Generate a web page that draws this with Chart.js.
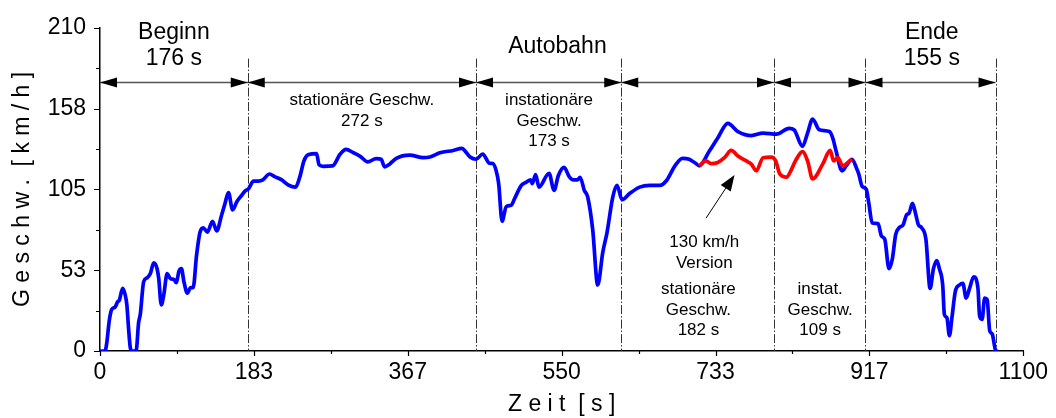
<!DOCTYPE html>
<html>
<head>
<meta charset="utf-8">
<script src="https://cdn.jsdelivr.net/npm/chart.js@4/dist/chart.umd.min.js"></script>
<style>
  html, body { margin: 0; padding: 0; background: #fff; }
  #wrap { width: 1056px; height: 418px; }
</style>
</head>
<body>
<div id="wrap"><canvas id="speedChart" width="1056" height="418"></canvas></div>
<script>
// time [s] / speed [km/h]
const blueTime = [0, 6, 8, 11, 14, 18, 21, 23, 27, 30, 32, 34, 36, 38, 43, 46, 48, 52, 56, 60, 64, 68, 70, 73, 76, 80, 84, 88, 91, 94, 97, 100, 104, 108, 111, 115, 119, 123, 128, 134, 139, 145, 149, 153, 158, 163, 168, 173, 177, 183, 189, 194, 202, 208, 216, 224, 233, 238, 243, 248, 258, 261, 266, 277, 286, 293, 302, 310, 319, 329, 335, 339, 345, 353, 369, 385, 393, 405, 421, 431, 435, 441, 448, 456, 464, 468, 472, 475, 479, 484, 490, 494, 502, 508, 513, 515, 519, 523, 535, 541, 546, 553, 559, 564, 569, 572, 577, 581, 587, 593, 599, 604, 611, 616, 622, 631, 643, 655, 667, 675, 685, 694, 702, 710, 714, 726, 736, 748, 760, 776, 790, 806, 821, 827, 837, 843, 849, 857, 869, 873, 877, 884, 889, 896, 901, 904, 908, 913, 916, 920, 927, 931, 935, 940, 944, 948, 952, 957, 961, 964, 968, 972, 975, 979, 984, 989, 993, 997, 1000, 1004, 1006, 1009, 1012, 1015, 1019, 1024, 1028, 1032, 1036, 1041, 1046, 1048, 1051, 1054, 1057, 1060, 1063, 1067, 1069];
const blueSpeed = [0, 0, 5, 19.5, 27, 28.5, 32, 33, 40.7, 36.5, 30, 15, 2.5, 0, 0, 18.5, 23.8, 45, 47.5, 50.3, 57.3, 53.5, 47, 30, 36.5, 50.3, 47, 46.5, 44.4, 51.8, 53.5, 45, 37.6, 41.2, 41.2, 62, 76.8, 80, 77.3, 84.3, 78, 88.5, 96, 103, 91.7, 97, 100.6, 104, 105.5, 110.4, 110.4, 111.2, 115, 113.3, 111.4, 108, 106.5, 113, 123.5, 127.5, 128.3, 121, 120, 120.3, 127.8, 131, 128.8, 126.5, 122.9, 125, 124.6, 119.7, 121.4, 125.2, 127.3, 125.6, 126, 128.8, 130.3, 131.6, 129.9, 126, 124.6, 128, 122, 121.8, 117.1, 108.7, 84.3, 93.8, 94.8, 99.1, 107.6, 109.7, 111.2, 108.7, 114.6, 106.5, 115.5, 104.4, 113.9, 119.3, 113.3, 111.2, 111.2, 112.9, 104.4, 100.2, 78.9, 42.9, 64.1, 76.8, 100.2, 107.6, 98.3, 102.3, 106.5, 107.6, 107.6, 110.8, 120.3, 125.2, 124.6, 121.8, 120.3, 129.9, 138.4, 147.9, 142.6, 140, 141.6, 140.9, 144.7, 143.7, 133, 141.6, 150.7, 143.7, 142.6, 138.4, 129.9, 117.1, 120.3, 124.6, 119.3, 115, 107, 105, 96, 83.2, 82.8, 74.7, 72.6, 53.5, 59.8, 75.7, 80, 82.1, 88.5, 89.6, 95.9, 88.5, 82.1, 80, 72.6, 40.7, 53.5, 58.8, 53.5, 42.9, 23.8, 21.6, 10, 21.6, 38.6, 42.9, 43.9, 34.4, 40.7, 48.2, 40.7, 22.7, 20.6, 34.4, 33.4, 13.2, 11.1, 0.5, 0];

// 130 km/h version
const redTime = [714, 722, 728, 736, 744, 752, 760, 770, 776, 782, 790, 800, 805, 810, 818, 823, 829, 837, 843, 849, 861, 870, 874, 879, 885, 893, 896];
const redSpeed = [120.3, 123.5, 121.8, 122.5, 125.6, 130.3, 126.7, 123.5, 121.4, 117.1, 125.6, 126, 123.5, 115, 112.9, 117.1, 124, 129.5, 123.5, 111.8, 121.4, 130.3, 123.5, 125.6, 120.3, 123.5, 124.6];

const xTickValues = [0, 1100 / 6, 2200 / 6, 550, 4400 / 6, 5500 / 6, 1100];
const xTickLabels = ["0", "183", "367", "550", "733", "917", "1100"];
const yTickValues = [0, 52.5, 105, 157.5, 210];
const yTickLabels = ["0", "53", "105", "158", "210"];

// phase boundaries [s]
const phaseBounds = [0, 176, 448, 621, 803, 912, 1067];

const FONT = "Arial, 'Liberation Sans', sans-serif";

const toPoints = (xs, ys) => xs.map((x, i) => ({ x: x, y: ys[i] }));

function arrowHead(ctx, tipX, tipY, dx, dy, len, half) {
  // dx,dy = unit direction pointing toward tip
  const bx = tipX - dx * len, by = tipY - dy * len;
  ctx.beginPath();
  ctx.moveTo(tipX, tipY);
  ctx.lineTo(bx - dy * half, by + dx * half);
  ctx.lineTo(bx + dy * half, by - dx * half);
  ctx.closePath();
  ctx.fill();
}

const phasePlugin = {
  id: "phases",
  beforeDatasetsDraw(chart) {
    const { ctx, scales: { x, y } } = chart;
    ctx.save();
    ctx.strokeStyle = "#333";
    ctx.lineWidth = 1;
    ctx.setLineDash([9, 2, 1.5, 2]);
    phaseBounds.slice(1).forEach((b) => {
      const px = Math.round(x.getPixelForValue(b)) + 0.5;
      ctx.beginPath();
      ctx.moveTo(px, y.getPixelForValue(190));
      ctx.lineTo(px, y.getPixelForValue(0));
      ctx.stroke();
    });
    ctx.restore();
  },
  afterDraw(chart) {
    const { ctx, scales: { x, y } } = chart;
    ctx.save();

    // duration arrows
    const ay = Math.round(y.getPixelForValue(175)) + 0.5;
    ctx.strokeStyle = "#555";
    ctx.lineWidth = 1.3;
    ctx.beginPath();
    ctx.moveTo(x.getPixelForValue(0), ay);
    ctx.lineTo(x.getPixelForValue(phaseBounds[phaseBounds.length - 1]), ay);
    ctx.stroke();
    ctx.fillStyle = "#000";
    for (let i = 0; i < phaseBounds.length - 1; i++) {
      const a = x.getPixelForValue(phaseBounds[i]);
      const b = x.getPixelForValue(phaseBounds[i + 1]);
      arrowHead(ctx, a, ay, -1, 0, 17, 5);
      arrowHead(ctx, b, ay, 1, 0, 17, 5);
    }

    // pointer to the red curve
    const p0x = x.getPixelForValue(722), p0y = y.getPixelForValue(86.3);
    const p1x = x.getPixelForValue(756), p1y = y.getPixelForValue(114.4);
    const L = Math.hypot(p1x - p0x, p1y - p0y);
    const ux = (p1x - p0x) / L, uy = (p1y - p0y) / L;
    ctx.lineWidth = 1;
    ctx.strokeStyle = "#000";
    ctx.beginPath();
    ctx.moveTo(p0x, p0y);
    ctx.lineTo(p1x - ux * 12, p1y - uy * 12);
    ctx.stroke();
    arrowHead(ctx, p1x, p1y, ux, uy, 16, 6);

    // texts
    ctx.fillStyle = "#000";
    ctx.textAlign = "center";
    ctx.textBaseline = "alphabetic";
    const put = (txt, t, px, size) => {
      ctx.font = size + "px " + FONT;
      ctx.fillText(txt, x.getPixelForValue(t), px);
    };
    const yv = (v) => y.getPixelForValue(v);
    // big titles, positions in pixel rows above the plot
    put("Beginn", 88, 39, 23);
    put("176 s", 88, 64.5, 23);
    put("Autobahn", 545, 52.5, 23);
    put("Ende", 991, 39, 23);
    put("155 s", 991, 64.5, 23);

    put("stationäre Geschw.", 312, 105, 17);
    put("272 s", 312, 126, 17);
    put("instationäre", 535, 105, 17);
    put("Geschw.", 535, 126, 17);
    put("173 s", 535, 146, 17);

    put("130 km/h", 720, 246.5, 17);
    put("Version", 720, 267.5, 17);
    put("stationäre", 713, 294, 17);
    put("Geschw.", 713, 315, 17);
    put("182 s", 713, 335, 17);
    put("instat.", 858, 294, 17);
    put("Geschw.", 858, 315, 17);
    put("109 s", 858, 335, 17);

    // axis tick marks (major + minor, outside)
    ctx.strokeStyle = "#000";
    ctx.lineWidth = 1.2;
    const y0 = y.getPixelForValue(0);
    const xl = x.getPixelForValue(0);
    ctx.beginPath();
    xTickValues.forEach((v, i) => {
      const px = Math.round(x.getPixelForValue(v)) + 0.5;
      ctx.moveTo(px, y0); ctx.lineTo(px, y0 + 5);
      if (i < xTickValues.length - 1) {
        const mx = Math.round(x.getPixelForValue((v + xTickValues[i + 1]) / 2)) + 0.5;
        ctx.moveTo(mx, y0); ctx.lineTo(mx, y0 + 3);
      }
    });
    yTickValues.forEach((v, i) => {
      const py = Math.round(yv(v)) + 0.5;
      ctx.moveTo(xl, py); ctx.lineTo(xl - 6, py);
      if (i < yTickValues.length - 1) {
        const my = Math.round(yv((v + yTickValues[i + 1]) / 2)) + 0.5;
        ctx.moveTo(xl, my); ctx.lineTo(xl - 4, my);
      }
    });
    ctx.stroke();
    ctx.restore();
  }
};

const config = {
  type: "line",
  data: {
    datasets: [
      {
        label: "130 km/h",
        data: toPoints(redTime, redSpeed),
        borderColor: "#ff0000",
        borderWidth: 3.7,
        pointRadius: 0,
        cubicInterpolationMode: "monotone",
      },
      {
        label: "Serie",
        data: toPoints(blueTime, blueSpeed),
        borderColor: "#0000ff",
        borderWidth: 3.7,
        pointRadius: 0,
        cubicInterpolationMode: "monotone",
      },
    ],
  },
  options: {
    responsive: false,
    animation: false,
    layout: { padding: { left: 0, top: 21, right: 32, bottom: 0 } },
    plugins: { legend: { display: false }, tooltip: { enabled: false } },
    scales: {
      x: {
        type: "linear",
        min: 0,
        max: 1100,
        afterBuildTicks: (s) => { s.ticks = xTickValues.map((v) => ({ value: v })); },
        afterFit: (s) => { s.height = 67; },
        grid: { display: false, drawTicks: false },
        border: { display: true, color: "#000", width: 1.5 },
        ticks: {
          color: "#000",
          padding: 8,
          maxRotation: 0,
          font: { family: FONT, size: 23 },
          callback: (v, i) => xTickLabels[i],
        },
        title: {
          display: true,
          text: "Z e i t  [ s ]",
          color: "#000",
          font: { family: FONT, size: 23 },
          padding: { top: 0, bottom: 0 },
        },
      },
      y: {
        min: 0,
        max: 210,
        afterBuildTicks: (s) => { s.ticks = yTickValues.map((v) => ({ value: v })); },
        afterFit: (s) => { s.width = 100; },
        grid: { display: false, drawTicks: false },
        border: { display: true, color: "#000", width: 1.5 },
        ticks: {
          color: "#000",
          padding: 14,
          font: { family: FONT, size: 23 },
          callback: (v, i) => yTickLabels[i],
        },
        title: {
          display: true,
          text: "G e s c h w .  [ k m / h ]",
          color: "#000",
          font: { family: FONT, size: 23 },
          padding: { top: 9, bottom: 0 },
        },
      },
    },
  },
  plugins: [phasePlugin],
};

new Chart(document.getElementById("speedChart"), config);
</script>
</body>
</html>
